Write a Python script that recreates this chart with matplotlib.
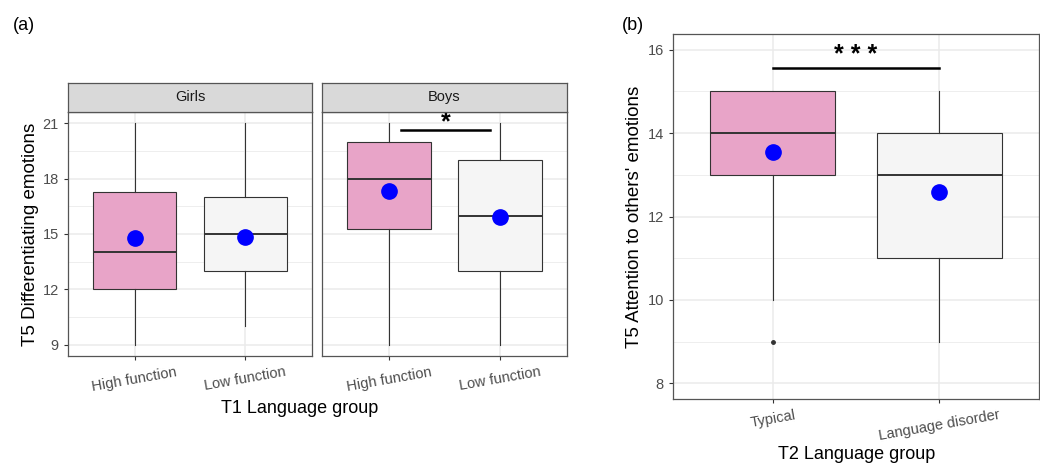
import numpy as np
import matplotlib.pyplot as plt
from matplotlib.ticker import MultipleLocator

plt.rcParams['font.family'] = ['Liberation Sans', 'DejaVu Sans']

# panel (a) data: T5 differentiating emotions by T1 language group
groups_a = ['High function', 'Low function']
girls_q1 = [12, 13]
girls_med = [14, 15]
girls_q3 = [17.25, 17]
girls_lo = [9, 10]
girls_hi = [21, 21]
girls_mean = [14.8, 14.85]

boys_q1 = [15.25, 13]
boys_med = [18, 16]
boys_q3 = [20, 19]
boys_lo = [9, 9]
boys_hi = [21, 21]
boys_mean = [17.3, 15.9]

# panel (b) data: T5 attention to others' emotions by T2 language group
groups_b = ['Typical', 'Language disorder']
b_q1 = [13, 11]
b_med = [14, 13]
b_q3 = [15, 14]
b_lo = [10, 9]
b_hi = [15, 15]
b_mean = [13.55, 12.6]
b_fliers = [[9], []]

fills = ['#E8A4C8', '#F5F5F5']
grid_c = '#EBEBEB'
txt_c = '#4D4D4D'


def make_stats(q1, med, q3, lo, hi, fl=None):
    out = []
    for i in range(len(q1)):
        out.append({'q1': q1[i], 'med': med[i], 'q3': q3[i], 'whislo': lo[i],
                    'whishi': hi[i], 'fliers': fl[i] if fl else []})
    return out


def draw_panel(ax, stats, means, labels, ylim, major, minor):
    ax.set_xlim(0.4, 2.6)
    ax.set_ylim(*ylim)
    ax.yaxis.set_major_locator(MultipleLocator(major))
    ax.yaxis.set_minor_locator(MultipleLocator(minor))
    ax.grid(True, which='major', color=grid_c, lw=1.1, zorder=0)
    ax.grid(True, which='minor', axis='y', color=grid_c, lw=0.6, zorder=0)
    ax.set_axisbelow(True)
    bp = ax.bxp(stats, positions=[1, 2], widths=0.75, patch_artist=True,
                showcaps=False, manage_ticks=False,
                boxprops=dict(edgecolor='#333333', lw=0.8),
                whiskerprops=dict(color='#333333', lw=0.8),
                medianprops=dict(color='#333333', lw=1.4),
                flierprops=dict(marker='o', markersize=2.5, markerfacecolor='#333333',
                                markeredgecolor='#333333'))
    for patch, c in zip(bp['boxes'], fills):
        patch.set_facecolor(c)
    ax.plot([1, 2], means, 'o', color='#0000FF', markersize=11, zorder=5)
    ax.set_xticks([1, 2])
    ax.set_xticklabels(labels, rotation=10, color=txt_c, fontsize=10.5)
    ax.tick_params(axis='both', which='major', length=3, color='#333333', labelcolor=txt_c, labelsize=10.5)
    ax.tick_params(axis='y', which='minor', length=0)
    for s in ax.spines.values():
        s.set_color('#555555')
        s.set_linewidth(0.9)


fig = plt.figure(figsize=(10.4, 4.67), dpi=100)

# panel (a)
ax_g = fig.add_axes([0.0654, 0.2377, 0.2346, 0.5225])
ax_b = fig.add_axes([0.3096, 0.2377, 0.2356, 0.5225])
draw_panel(ax_g, make_stats(girls_q1, girls_med, girls_q3, girls_lo, girls_hi),
           girls_mean, groups_a, (8.4, 21.6), 3, 1.5)
draw_panel(ax_b, make_stats(boys_q1, boys_med, boys_q3, boys_lo, boys_hi),
           boys_mean, groups_a, (8.4, 21.6), 3, 1.5)
ax_b.set_yticklabels([])
ax_b.tick_params(axis='y', length=0)
ax_g.set_ylabel('T5 Differentiating emotions', fontsize=13.5, labelpad=3)

for ax, name in [(ax_g, 'Girls'), (ax_b, 'Boys')]:
    pos = ax.get_position()
    st = fig.add_axes([pos.x0, pos.y1, pos.width, 0.0621])
    st.set_facecolor('#D9D9D9')
    st.set_xticks([])
    st.set_yticks([])
    for s in st.spines.values():
        s.set_color('#555555')
        s.set_linewidth(0.9)
    st.text(0.5, 0.5, name, ha='center', va='center', fontsize=10.5, color='#1A1A1A',
            transform=st.transAxes)

ax_b.plot([1.11, 1.91], [20.6, 20.6], color='black', lw=1.8)
ax_b.text(1.51, 20.4, '*', ha='center', va='bottom', fontsize=18, fontweight='bold')

fig.text(0.2885, 0.126, 'T1 Language group', ha='center', va='center', fontsize=13)
fig.text(0.012, 0.935, '(a)', fontsize=13)

# panel (b)
ax_r = fig.add_axes([0.6471, 0.1456, 0.3519, 0.7816])
draw_panel(ax_r, make_stats(b_q1, b_med, b_q3, b_lo, b_hi, b_fliers),
           b_mean, groups_b, (7.62, 16.38), 2, 1)
ax_r.set_ylabel("T5 Attention to others' emotions", fontsize=13.5, labelpad=3)
ax_r.plot([1, 2], [15.56, 15.56], color='black', lw=1.8)
ax_r.text(1.5, 15.58, '* * *', ha='center', va='bottom', fontsize=18, fontweight='bold')
fig.text(0.8235, 0.026, 'T2 Language group', ha='center', va='center', fontsize=13)
fig.text(0.598, 0.935, '(b)', fontsize=13)

fig.savefig('out.png', dpi=100)
